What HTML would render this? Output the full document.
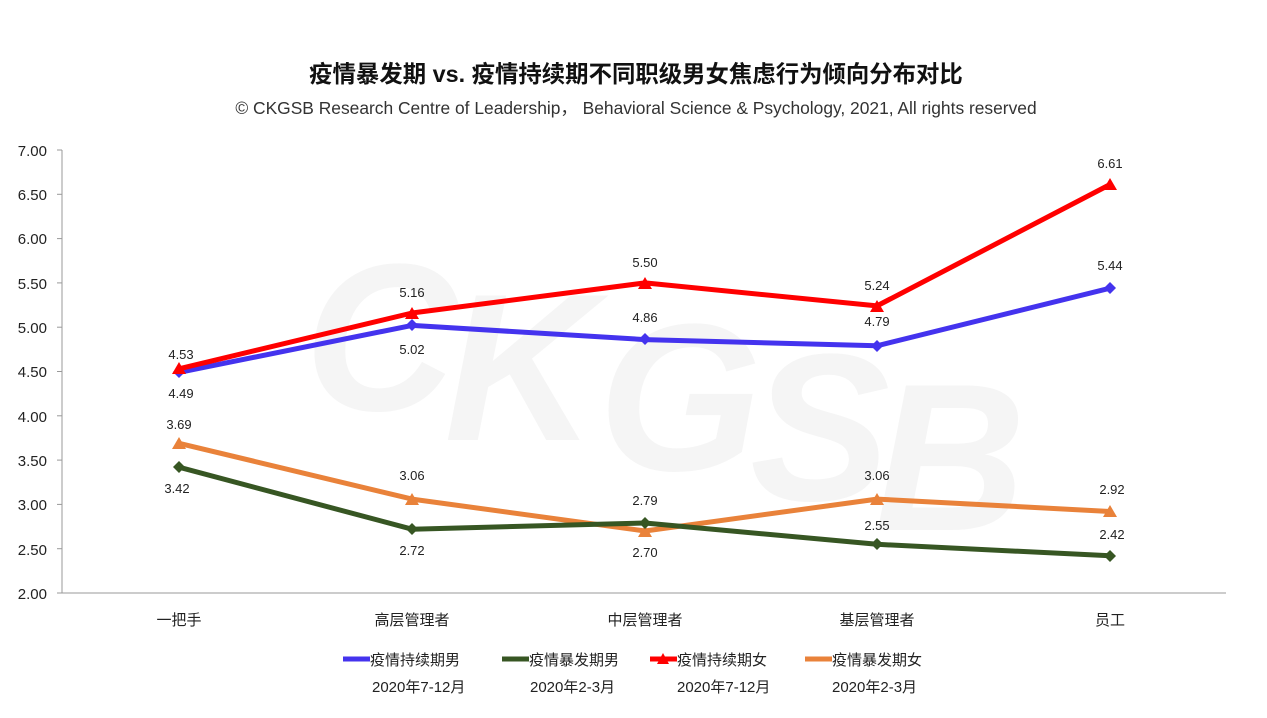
<!DOCTYPE html>
<html><head><meta charset="utf-8"><style>
body{margin:0;background:#fff;}
text{font-family:"Liberation Sans","Noto Sans CJK SC",sans-serif;}
</style></head><body>
<svg width="1267" height="713" viewBox="0 0 1267 713" xmlns="http://www.w3.org/2000/svg">
<text x="636" y="82" text-anchor="middle" font-size="23.4" font-weight="bold" fill="#111">疫情暴发期 vs. 疫情持续期不同职级男女焦虑行为倾向分布对比</text>
<text x="636" y="114" text-anchor="middle" font-size="17.4" fill="#333">© CKGSB Research Centre of Leadership， Behavioral Science &amp; Psychology, 2021, All rights reserved</text>
<g font-size="210" font-style="italic" font-weight="bold" fill="#f5f5f5" text-anchor="middle">
<text x="380" y="410">C</text><text x="520" y="440">K</text><text x="680" y="470">G</text><text x="820" y="500">S</text><text x="950" y="530">B</text>
</g>
<g stroke="#999" stroke-width="1">
<line x1="62" y1="150" x2="62" y2="593"/>
<line x1="62" y1="593" x2="1226" y2="593"/>
</g>
<g stroke="#999">
<line x1="57" y1="150" x2="62" y2="150"/><line x1="57" y1="194.3" x2="62" y2="194.3"/><line x1="57" y1="238.6" x2="62" y2="238.6"/><line x1="57" y1="282.9" x2="62" y2="282.9"/><line x1="57" y1="327.2" x2="62" y2="327.2"/><line x1="57" y1="371.5" x2="62" y2="371.5"/><line x1="57" y1="415.8" x2="62" y2="415.8"/><line x1="57" y1="460.1" x2="62" y2="460.1"/><line x1="57" y1="504.4" x2="62" y2="504.4"/><line x1="57" y1="548.7" x2="62" y2="548.7"/><line x1="57" y1="593" x2="62" y2="593"/>
</g>
<g font-size="15" fill="#222" text-anchor="end">
<text x="47" y="156">7.00</text><text x="47" y="200">6.50</text><text x="47" y="244">6.00</text><text x="47" y="289">5.50</text><text x="47" y="333">5.00</text><text x="47" y="377">4.50</text><text x="47" y="422">4.00</text><text x="47" y="466">3.50</text><text x="47" y="510">3.00</text><text x="47" y="555">2.50</text><text x="47" y="599">2.00</text>
</g>
<g font-size="15" fill="#222" text-anchor="middle">
<text x="179" y="625">一把手</text><text x="412" y="625">高层管理者</text><text x="645" y="625">中层管理者</text><text x="877" y="625">基层管理者</text><text x="1110" y="625">员工</text>
</g>
<g fill="none" stroke-width="5" stroke-linejoin="round">
<polyline stroke="#e9823a" points="179,443.3 412,499.1 645,531 877,499.1 1110,511.5"/>
<polyline stroke="#375623" points="179,467.2 412,529.2 645,523 877,544.3 1110,555.8"/>
<polyline stroke="#4433ee" points="179,372.4 412,325.4 645,339.6 877,345.8 1110,288.2"/>
<polyline stroke="#ff0000" points="179,368.8 412,313 645,282.9 877,305.9 1110,184.5"/>
</g>
<g fill="#e9823a">
<polygon points="179,437 172,449 186,449"/><polygon points="412,493 405,505 419,505"/><polygon points="645,525 638,537 652,537"/><polygon points="877,493 870,505 884,505"/><polygon points="1110,505 1103,517 1117,517"/>
</g>
<g fill="#375623">
<polygon points="179,461 185,467 179,473 173,467"/><polygon points="412,523 418,529 412,535 406,529"/><polygon points="645,517 651,523 645,529 639,523"/><polygon points="877,538 883,544 877,550 871,544"/><polygon points="1110,550 1116,556 1110,562 1104,556"/>
</g>
<g fill="#4433ee">
<polygon points="179,366 185,372 179,378 173,372"/><polygon points="412,319 418,325 412,331 406,325"/><polygon points="645,333 651,339 645,345 639,339"/><polygon points="877,340 883,346 877,352 871,346"/><polygon points="1110,282 1116,288 1110,294 1104,288"/>
</g>
<g fill="#ff0000">
<polygon points="179,362 172,374 186,374"/><polygon points="412,307 405,319 419,319"/><polygon points="645,277 638,289 652,289"/><polygon points="877,300 870,312 884,312"/><polygon points="1110,178 1103,190 1117,190"/>
</g>
<g font-size="13" fill="#222" text-anchor="middle">
<text x="181" y="359">4.53</text><text x="181" y="398">4.49</text>
<text x="412" y="297">5.16</text><text x="412" y="354">5.02</text>
<text x="645" y="267">5.50</text><text x="645" y="322">4.86</text>
<text x="877" y="290">5.24</text><text x="877" y="326">4.79</text>
<text x="1110" y="168">6.61</text><text x="1110" y="270">5.44</text>
<text x="179" y="429">3.69</text><text x="177" y="493">3.42</text>
<text x="412" y="480">3.06</text><text x="412" y="555">2.72</text>
<text x="645" y="505">2.79</text><text x="645" y="557">2.70</text>
<text x="877" y="480">3.06</text><text x="877" y="530">2.55</text>
<text x="1112" y="494">2.92</text><text x="1112" y="539">2.42</text>
</g>
<g font-size="15" fill="#222">
<line x1="343" y1="659" x2="370" y2="659" stroke="#4433ee" stroke-width="5"/>
<text x="370" y="665">疫情持续期男</text><text x="372" y="692">2020年7-12月</text>
<line x1="502" y1="659" x2="529" y2="659" stroke="#375623" stroke-width="5"/>
<text x="529" y="665">疫情暴发期男</text><text x="530" y="692">2020年2-3月</text>
<line x1="650" y1="659" x2="677" y2="659" stroke="#ff0000" stroke-width="5"/>
<polygon points="663,653 657,664 669,664" fill="#ff0000"/>
<text x="677" y="665">疫情持续期女</text><text x="677" y="692">2020年7-12月</text>
<line x1="805" y1="659" x2="832" y2="659" stroke="#e9823a" stroke-width="5"/>
<text x="832" y="665">疫情暴发期女</text><text x="832" y="692">2020年2-3月</text>
</g>
</svg>
</body></html>
